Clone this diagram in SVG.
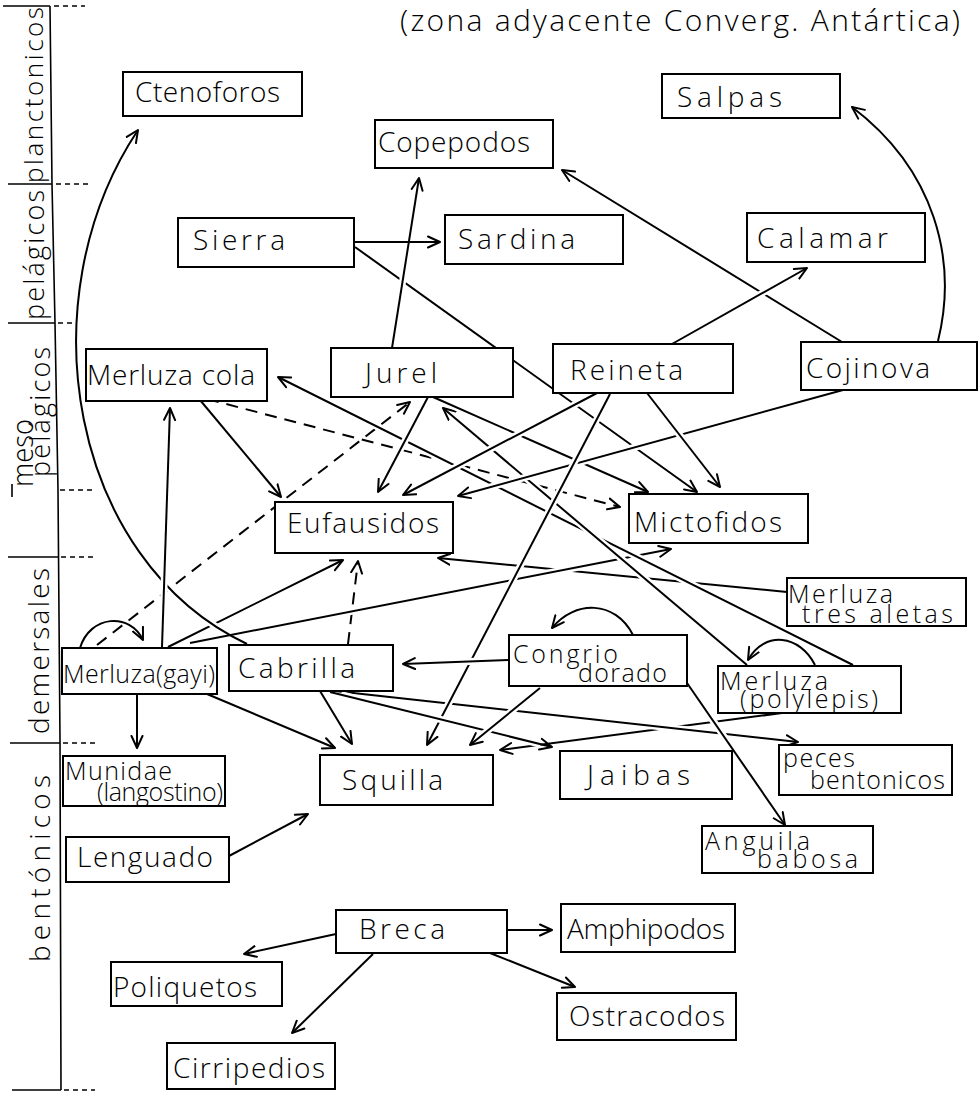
<svg xmlns="http://www.w3.org/2000/svg" width="980" height="1094" viewBox="0 0 980 1094">
  <defs>
    <marker id="arr" viewBox="0 0 14 14" refX="13" refY="7" markerWidth="14" markerHeight="14" markerUnits="userSpaceOnUse" orient="auto">
      <path d="M1,1.5 L13,7 L1,12.5" fill="none" stroke="#000" stroke-width="2" stroke-linecap="round" stroke-linejoin="round"/>
    </marker>
    <style>
      .bx { fill: #fff; stroke: #000; stroke-width: 2; }
      .t { font-family: "Open Sans", "DejaVu Sans", sans-serif; font-weight: 300; font-size: 28px; fill: #000; }
      .s { font-size: 25px; }
      .ln { fill: none; stroke: #000; stroke-width: 2; marker-end: url(#arr); }
      .dl { fill: none; stroke: #000; stroke-width: 2; stroke-dasharray: 12 8; marker-end: url(#arr); }
      .cs { fill: none; stroke: #fff; stroke-width: 7; stroke-dasharray: 0 5 90 100; }
      .rule { fill: none; stroke: #000; stroke-width: 1.6; }
      .dot { fill: none; stroke: #000; stroke-width: 1.6; stroke-dasharray: 5 4; }
    </style>
  </defs>
  <rect width="980" height="1094" fill="#fff"/>

  <!-- zone scale on the left -->
  <g id="scale">
    <polyline class="rule" points="50,6 52,184 55,323 58,490 60,740 61,1090"/>
    <line class="rule" x1="3" y1="6" x2="50" y2="6"/>
    <line class="dot" x1="54" y1="6" x2="85" y2="6"/>
    <line class="rule" x1="8" y1="184" x2="52" y2="184"/>
    <line class="dot" x1="56" y1="184" x2="88" y2="184"/>
    <line class="rule" x1="8" y1="323" x2="55" y2="323"/>
    <line class="dot" x1="58" y1="323" x2="80" y2="323"/>
    <line class="rule" x1="12" y1="484" x2="12" y2="497"/>
    <line class="dot" x1="60" y1="490" x2="93" y2="490"/>
    <line class="rule" x1="8" y1="557" x2="58" y2="557"/>
    <line class="dot" x1="61" y1="557" x2="97" y2="557"/>
    <line class="rule" x1="10" y1="743" x2="60" y2="743"/>
    <line class="dot" x1="63" y1="743" x2="97" y2="743"/>
    <line class="rule" x1="12" y1="1090" x2="61" y2="1090"/>
    <line class="dot" x1="64" y1="1090" x2="95" y2="1090"/>
    <text class="t" style="font-size:26px" transform="translate(43,183) rotate(-90)" textLength="176" lengthAdjust="spacing">planctonicos</text>
    <text class="t" style="font-size:27px" transform="translate(44,320) rotate(-90)" textLength="130" lengthAdjust="spacing">pelágicos</text>
    <text class="t" style="font-size:30px" transform="translate(33,487) rotate(-90)" textLength="68" lengthAdjust="spacingAndGlyphs">meso</text>
    <text class="t" style="font-size:27px" transform="translate(50,477) rotate(-90)" textLength="130" lengthAdjust="spacing">pelágicos</text>
    <text class="t" style="font-size:28px" transform="translate(49,734) rotate(-90)" textLength="166" lengthAdjust="spacing">demersales</text>
    <text class="t" style="font-size:28px" transform="translate(50,962) rotate(-90)" textLength="187" lengthAdjust="spacing">bentónicos</text>
  </g>

  <text class="t" x="400" y="31" textLength="560" lengthAdjust="spacing" style="font-size:30px">(zona adyacente Converg. Antártica)</text>

  <!-- feeding links; each has a white casing so later strokes break earlier ones at crossings -->
  <g id="connectors">
    <path class="cs" pathLength="100" d="M787,592 L438,558"/><path class="ln" d="M787,592 L438,558"/>
    <path class="cs" pathLength="100" d="M355,247 L697,492"/><path class="ln" d="M355,247 L697,492"/>
    <path class="cs" pathLength="100" d="M782,713 L500,750"/><path class="ln" d="M782,713 L500,750"/>
    <path class="dl" d="M207,399 L620,507"/>
    <path class="dl" d="M97,645 L410,402"/>
    <path class="dl" d="M348,644 L358,561"/>
    <path class="cs" pathLength="100" d="M335,691 L798,742"/><path class="ln" d="M335,691 L798,742"/>
    <path class="cs" pathLength="100" d="M190,643 L671,549"/><path class="ln" d="M190,643 L671,549"/>
    <path class="cs" pathLength="100" d="M853,665 L278,377"/><path class="ln" d="M853,665 L278,377"/>
    <path class="cs" pathLength="100" d="M747,665 L443,408"/><path class="ln" d="M747,665 L443,408"/>
    <path class="cs" pathLength="100" d="M433,397 L648,492"/><path class="ln" d="M433,397 L648,492"/>
    <path class="cs" pathLength="100" d="M597,393 L403,495"/><path class="ln" d="M597,393 L403,495"/>
    <path class="cs" pathLength="100" d="M843,390 L458,496"/><path class="ln" d="M843,390 L458,496"/>
    <path class="cs" pathLength="100" d="M610,394 L427,745"/><path class="ln" d="M610,394 L427,745"/>
    <path class="cs" pathLength="100" d="M647,393 L720,487"/><path class="ln" d="M647,393 L720,487"/>
    <path class="cs" pathLength="100" d="M428,397 L378,492"/><path class="ln" d="M428,397 L378,492"/>
    <path class="cs" pathLength="100" d="M200,400 L281,497"/><path class="ln" d="M200,400 L281,497"/>
    <path class="cs" pathLength="100" d="M168,647 L343,560"/><path class="ln" d="M168,647 L343,560"/>
    <path class="cs" pathLength="100" d="M247,644 C70,560 25,300 138,130"/><path class="ln" d="M247,644 C70,560 25,300 138,130"/>
    <path class="cs" pathLength="100" d="M162,647 L170,408"/><path class="ln" d="M162,647 L170,408"/>
    <path class="cs" pathLength="100" d="M330,692 L552,747"/><path class="ln" d="M330,692 L552,747"/>
    <path class="cs" pathLength="100" d="M540,688 L470,745"/><path class="ln" d="M540,688 L470,745"/>
    <path class="cs" pathLength="100" d="M687,683 L785,825"/><path class="ln" d="M687,683 L785,825"/>
    <path class="cs" pathLength="100" d="M508,660 L403,664"/><path class="ln" d="M508,660 L403,664"/>
    <path class="cs" pathLength="100" d="M392,348 L419,178"/><path class="ln" d="M392,348 L419,178"/>
    <path class="cs" pathLength="100" d="M842,342 L562,170"/><path class="ln" d="M842,342 L562,170"/>
    <path class="cs" pathLength="100" d="M672,344 L807,268"/><path class="ln" d="M672,344 L807,268"/>
    <path class="ln" d="M355,242 L440,242"/>
    <path class="ln" d="M938,341 C958,260 935,170 852,107"/>
    <path class="ln" d="M80,648 C90,615 130,612 143,640"/>
    <path class="ln" d="M633,635 C615,600 575,600 552,628"/>
    <path class="ln" d="M815,665 C800,635 765,630 748,660"/>
    <path class="ln" d="M137,694 L137,748"/>
    <path class="ln" d="M207,694 L335,748"/>
    <path class="ln" d="M320,691 L352,744"/>
    <path class="ln" d="M229,856 L308,814"/>
    <path class="ln" d="M507,930 L552,930"/>
    <path class="ln" d="M490,953 L575,987"/>
    <path class="ln" d="M336,934 L244,954"/>
    <path class="ln" d="M373,954 L292,1033"/>
  </g>

  <g id="ctenoforos"><rect class="bx" x="123" y="72" width="179" height="44"/><text class="t" x="135" y="102" textLength="145" lengthAdjust="spacing">Ctenoforos</text></g>
  <g id="copepodos"><rect class="bx" x="375" y="120" width="178" height="48"/><text class="t" x="378" y="152" textLength="152" lengthAdjust="spacing">Copepodos</text></g>
  <g id="salpas"><rect class="bx" x="662" y="74" width="178" height="44"/><text class="t" x="677" y="107" textLength="105" lengthAdjust="spacing">Salpas</text></g>
  <g id="sierra"><rect class="bx" x="178" y="218" width="176" height="49"/><text class="t" x="193" y="250" textLength="92" lengthAdjust="spacing">Sierra</text></g>
  <g id="sardina"><rect class="bx" x="445" y="215" width="178" height="49"/><text class="t" x="458" y="249" textLength="117" lengthAdjust="spacing">Sardina</text></g>
  <g id="calamar"><rect class="bx" x="747" y="213" width="178" height="49"/><text class="t" x="757" y="248" textLength="131" lengthAdjust="spacing">Calamar</text></g>
  <g id="merluza-cola"><rect class="bx" x="86" y="349" width="181" height="52"/><text class="t" x="87" y="385" textLength="168" lengthAdjust="spacing">Merluza cola</text></g>
  <g id="jurel"><rect class="bx" x="331" y="348" width="182" height="49"/><text class="t" x="365" y="383" textLength="72" lengthAdjust="spacing">Jurel</text></g>
  <g id="reineta"><rect class="bx" x="553" y="344" width="180" height="49"/><text class="t" x="570" y="380" textLength="113" lengthAdjust="spacing">Reineta</text></g>
  <g id="cojinova"><rect class="bx" x="801" y="342" width="176" height="48"/><text class="t" x="806" y="378" textLength="124" lengthAdjust="spacing">Cojinova</text></g>
  <g id="eufausidos"><rect class="bx" x="275" y="502" width="178" height="51"/><text class="t" x="287" y="533" textLength="152" lengthAdjust="spacing">Eufausidos</text></g>
  <g id="mictofidos"><rect class="bx" x="629" y="494" width="179" height="49"/><text class="t" x="634" y="532" textLength="148" lengthAdjust="spacing">Mictofidos</text></g>
  <g id="merluza-tres-aletas"><rect class="bx" x="787" y="578" width="179" height="48"/><text class="t s" x="788" y="603" textLength="105" lengthAdjust="spacing">Merluza</text><text class="t s" x="802" y="623" textLength="151" lengthAdjust="spacing">tres aletas</text></g>
  <g id="merluza-gayi"><rect class="bx" x="62" y="648" width="155" height="46"/><text class="t s" x="63" y="683" textLength="152" lengthAdjust="spacing">Merluza(gayi)</text></g>
  <g id="cabrilla"><rect class="bx" x="229" y="645" width="164" height="46"/><text class="t" x="238" y="678" textLength="117" lengthAdjust="spacing">Cabrilla</text></g>
  <g id="congrio-dorado"><rect class="bx" x="509" y="635" width="178" height="51"/><text class="t s" x="513" y="663" textLength="105" lengthAdjust="spacing">Congrio</text><text class="t s" x="578" y="682" textLength="89" lengthAdjust="spacing">dorado</text></g>
  <g id="merluza-polylepis"><rect class="bx" x="718" y="666" width="183" height="47"/><text class="t s" x="720" y="690" textLength="108" lengthAdjust="spacing">Merluza</text><text class="t s" x="740" y="708" textLength="138" lengthAdjust="spacing">(polylepis)</text></g>
  <g id="munidae"><rect class="bx" x="63" y="756" width="162" height="50"/><text class="t s" x="65" y="780" textLength="107" lengthAdjust="spacing">Munidae</text><text class="t s" x="97" y="801" textLength="126" lengthAdjust="spacing">(langostino)</text></g>
  <g id="squilla"><rect class="bx" x="320" y="755" width="173" height="50"/><text class="t" x="342" y="790" textLength="101" lengthAdjust="spacing">Squilla</text></g>
  <g id="jaibas"><rect class="bx" x="560" y="751" width="172" height="48"/><text class="t" x="587" y="785" textLength="103" lengthAdjust="spacing">Jaibas</text></g>
  <g id="peces-bentonicos"><rect class="bx" x="779" y="745" width="173" height="50"/><text class="t s" x="783" y="767" textLength="72" lengthAdjust="spacing">peces</text><text class="t s" x="810" y="789" textLength="135" lengthAdjust="spacing">bentonicos</text></g>
  <g id="anguila-babosa"><rect class="bx" x="702" y="826" width="171" height="47"/><text class="t s" x="705" y="850" textLength="105" lengthAdjust="spacing">Anguila</text><text class="t s" x="757" y="868" textLength="101" lengthAdjust="spacing">babosa</text></g>
  <g id="lenguado"><rect class="bx" x="66" y="837" width="163" height="45"/><text class="t" x="77" y="867" textLength="136" lengthAdjust="spacing">Lenguado</text></g>
  <g id="breca"><rect class="bx" x="336" y="910" width="171" height="43"/><text class="t" x="359" y="939" textLength="86" lengthAdjust="spacing">Breca</text></g>
  <g id="amphipodos"><rect class="bx" x="561" y="904" width="174" height="48"/><text class="t" x="567" y="939" textLength="158" lengthAdjust="spacing">Amphipodos</text></g>
  <g id="ostracodos"><rect class="bx" x="557" y="993" width="179" height="47"/><text class="t" x="569" y="1026" textLength="156" lengthAdjust="spacing">Ostracodos</text></g>
  <g id="poliquetos"><rect class="bx" x="111" y="962" width="171" height="44"/><text class="t" x="113" y="997" textLength="144" lengthAdjust="spacing">Poliquetos</text></g>
  <g id="cirripedios"><rect class="bx" x="167" y="1043" width="168" height="46"/><text class="t" x="173" y="1078" textLength="152" lengthAdjust="spacing">Cirripedios</text></g>
</svg>
